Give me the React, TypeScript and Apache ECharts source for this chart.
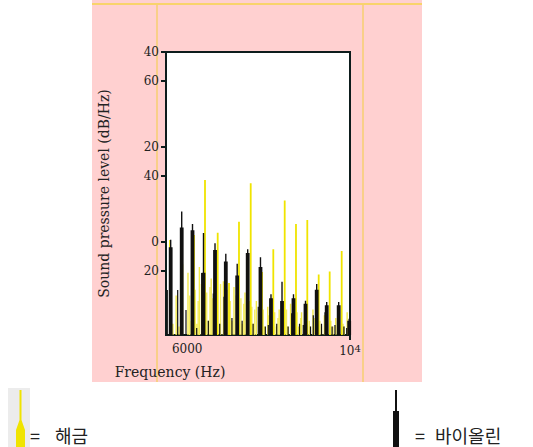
import React, { useEffect, useRef } from 'react';
import * as echarts from 'echarts';

// y axis: level units (0 = bottom of plot, 100 = top); tick labels as printed
const yTickLevels = [22.6, 32.9, 56.2, 66.4, 89.8, 100];
const yTickLabels = ['20', '0', '40', '20', '60', '40'];
const xTickValues = [6000, 10000];

// 해금 (yellow) spectral peaks
const haegeumPeakFreqs = [5578, 5880, 6168, 6438, 6750, 7028, 7273, 7561, 7838, 8116, 8396, 8673, 8951, 9231, 9501, 9796];
const haegeumPeakLevels = [33.6, 25, 35.3, 54.8, 36.1, 18.4, 40.0, 53.6, 22.3, 30.3, 47.5, 39.2, 40.6, 21.4, 22.4, 29.7];
// 해금 low-level components
const haegeumLowFreqs = [5650, 5730, 5800, 6020, 6100, 6240, 6300, 6520, 6590, 6670, 6890, 6960, 7100, 7150, 7350, 7420, 7480, 7620, 7700, 7900, 7980, 8050, 8190, 8260, 8330, 8470, 8540, 8610, 8740, 8810, 8880, 9020, 9090, 9160, 9300, 9370, 9440, 9580, 9650, 9720, 9860, 9930];
const haegeumLowLevels = [4, 14, 3, 22, 5, 4, 24, 5, 20, 4, 19, 6, 5, 17, 4, 15, 5, 4, 12, 3, 10, 4, 3, 9, 4, 3, 11, 4, 3, 8, 4, 3, 9, 4, 3, 7, 4, 3, 6, 4, 3, 8];
const haegeumFuzzFreqs = [6060, 6200, 6270, 6350, 6480, 6560, 6630, 6700, 6820, 6930, 6990, 7060, 7200, 7320, 7390, 7530, 7590, 7660, 7760, 7870, 8000, 8150, 8230, 8370, 8440, 8580, 8700, 8790, 8920, 9000, 9130, 9260, 9410, 9530, 9690, 9830, 9960];
const haegeumFuzzLevels = [14, 16, 12, 18, 15, 17, 13, 16, 18, 14, 16, 12, 14, 13, 11, 12, 10, 9, 8, 9, 7, 8, 6, 7, 9, 7, 8, 6, 7, 5, 6, 5, 6, 5, 5, 4, 5];

// 바이올린 (black) spectral peaks: thin tip level and thick body level
const violinPeakFreqs = [5595, 5866, 6131, 6401, 6684, 6949, 7229, 7487, 7801, 8059, 8330, 8612, 8907, 9182, 9428, 9722, 9980];
const violinPeakLevels = [33.7, 43.6, 39.2, 36.0, 32.4, 28.7, 25.2, 30.3, 27.5, 14.4, 18.8, 14.4, 12.1, 18.0, 11.7, 11.7, 5.7];
const violinBodyLevels = [31, 38, 37, 22, 30, 26, 21, 29, 24, 13, 12, 13, 11, 16, 10.5, 10.5, 5];
// 바이올린 low-level components
const violinLowFreqs = [5512, 5767, 5971, 6234, 6357, 6520, 6642, 6800, 6905, 7100, 7350, 7620, 7747, 7920, 7993, 8200, 8480, 8568, 8760, 8853, 9030, 9098, 9300, 9386, 9560, 9631, 9850, 9919];
const violinLowLevels = [15.9, 15.9, 8.8, 2.5, 21.9, 5, 14.7, 4, 13.5, 6, 5, 4, 10, 3, 3.5, 4, 3, 7.7, 4, 3.5, 3, 7, 4, 8, 3, 3.5, 3, 2.5];

function spikes(freqs: number[], levels: number[]) {
  const out: any[] = [];
  freqs.forEach((f, i) => {
    out.push([f, 0], [f, levels[i]], [f, '-']);
  });
  return out;
}

const serif = 'DejaVu Serif';

export default function App() {
  const ref = useRef<HTMLDivElement>(null);
  useEffect(() => {
    if (!ref.current) return;
    const chart = echarts.init(ref.current, undefined, { renderer: 'svg' });
    const yellow = '#f0e400';
    const black = '#111111';
    const legendRich = (w: number) => ({
      a: { fontFamily: 'Noto Sans CJK KR', fontSize: 18, lineHeight: 20, color: '#222', width: w },
      b: { fontFamily: 'Noto Sans CJK KR', fontSize: 18, lineHeight: 20, color: '#222' },
    });
    chart.setOption({
      animation: false,
      backgroundColor: '#ffffff',
      graphic: [
        { type: 'rect', z: -10, shape: { x: 92, y: 0, width: 330, height: 382 }, style: { fill: '#ffd0d0' } },
        { type: 'line', z: -9, shape: { x1: 92, y1: 4, x2: 422, y2: 4 }, style: { stroke: '#f7d44a', lineWidth: 1.5 } },
        { type: 'line', z: -9, shape: { x1: 157, y1: 4, x2: 157, y2: 382 }, style: { stroke: '#f7cf70', lineWidth: 1.5 } },
        { type: 'line', z: -9, shape: { x1: 363, y1: 4, x2: 363, y2: 382 }, style: { stroke: '#f7cf70', lineWidth: 1.5 } },
        { type: 'rect', z: -10, shape: { x: 8, y: 388, width: 22, height: 59 }, style: { fill: '#ececec' } },
      ],
      grid: {
        left: 166, top: 52, width: 184, height: 283,
        show: true, backgroundColor: '#ffffff', borderColor: '#0d1c1c', borderWidth: 2,
      },
      legend: [
        {
          left: 16, top: 390, padding: 0,
          itemWidth: 9, itemHeight: 57,
          icon: 'path://M3.5,0 L5.5,0 L5.5,30 L9,40 L9,57 L0,57 L0,40 L3.5,30 Z',
          data: ['해금'],
          itemStyle: { color: yellow, borderWidth: 0 },
          formatter: (n: string) => `{a|=}{b|${n}}`,
          textStyle: { padding: [32, 0, 0, 0], rich: legendRich(25) },
        },
        {
          left: 393, top: 390, padding: 0,
          itemWidth: 6, itemHeight: 57,
          icon: 'path://M2,0 L4,0 L4,21 L6,21 L6,57 L0,57 L0,21 L2,21 Z',
          data: ['바이올린'],
          itemStyle: { color: black, borderWidth: 0 },
          formatter: (n: string) => `{a|=}{b|${n}}`,
          textStyle: { padding: [32, 0, 0, 11], rich: legendRich(20) },
        },
      ],
      xAxis: {
        type: 'value', min: 5480, max: 10000, z: 10,
        name: 'Frequency (Hz)', nameLocation: 'middle', nameGap: 30,
        nameTextStyle: { fontFamily: serif, fontSize: 14, color: '#222', padding: [0, 176, 0, 0] },
        axisLine: { show: false },
        splitLine: { show: false },
        axisTick: { show: true, customValues: [10000], length: 5, lineStyle: { color: '#0d1c1c', width: 2 } },
        axisLabel: {
          customValues: xTickValues,
          margin: 8,
          fontFamily: serif, fontSize: 12, color: '#222',
          formatter: (v: number) => (v === 10000 ? '{b|10}{s|4}' : String(v)),
          rich: {
            b: { fontFamily: serif, fontSize: 12, color: '#222' },
            s: { fontFamily: serif, fontSize: 10, color: '#222', verticalAlign: 'top', padding: [0, 0, 6, 0] },
          },
        },
      },
      yAxis: {
        type: 'value', min: 0, max: 100, z: 10,
        name: 'Sound pressure level (dB/Hz)', nameLocation: 'middle', nameGap: 55,
        nameTextStyle: { fontFamily: serif, fontSize: 14, color: '#222' },
        axisLine: { show: false },
        splitLine: { show: false },
        axisTick: { show: true, customValues: yTickLevels, length: 5, lineStyle: { color: '#0d1c1c', width: 2 } },
        axisLabel: {
          customValues: yTickLevels,
          margin: 7,
          fontFamily: serif, fontSize: 12, color: '#222',
          formatter: (v: number) => {
            let best = 0;
            yTickLevels.forEach((t, i) => { if (Math.abs(t - v) < Math.abs(yTickLevels[best] - v)) best = i; });
            return yTickLabels[best];
          },
        },
      },
      series: [
        {
          name: '해금', type: 'line', showSymbol: false, connectNulls: false,
          color: yellow, lineStyle: { color: '#f4ec66', width: 1.4 },
          data: spikes(haegeumFuzzFreqs, haegeumFuzzLevels),
        },
        {
          name: '해금', type: 'line', showSymbol: false, connectNulls: false,
          color: yellow, lineStyle: { color: '#f2e84a', width: 1.4 },
          data: spikes(haegeumLowFreqs, haegeumLowLevels),
        },
        {
          name: '해금', type: 'line', showSymbol: false, connectNulls: false,
          color: yellow, lineStyle: { color: yellow, width: 1.8 },
          data: spikes(haegeumPeakFreqs, haegeumPeakLevels),
        },
        {
          name: '바이올린', type: 'line', showSymbol: false, connectNulls: false,
          color: black, lineStyle: { color: black, width: 1.2 },
          data: spikes(violinLowFreqs, violinLowLevels),
        },
        {
          name: '바이올린', type: 'line', showSymbol: false, connectNulls: false,
          color: black, lineStyle: { color: black, width: 1.4 },
          data: spikes(violinPeakFreqs, violinPeakLevels),
        },
        {
          name: '바이올린', type: 'line', showSymbol: false, connectNulls: false,
          color: black, lineStyle: { color: black, width: 3.8 },
          data: spikes(violinPeakFreqs, violinBodyLevels),
        },
      ],
    });
    return () => chart.dispose();
  }, []);
  return <div ref={ref} style={{ position: 'fixed', left: 0, top: 0, width: 533, height: 447 }} />;
}
